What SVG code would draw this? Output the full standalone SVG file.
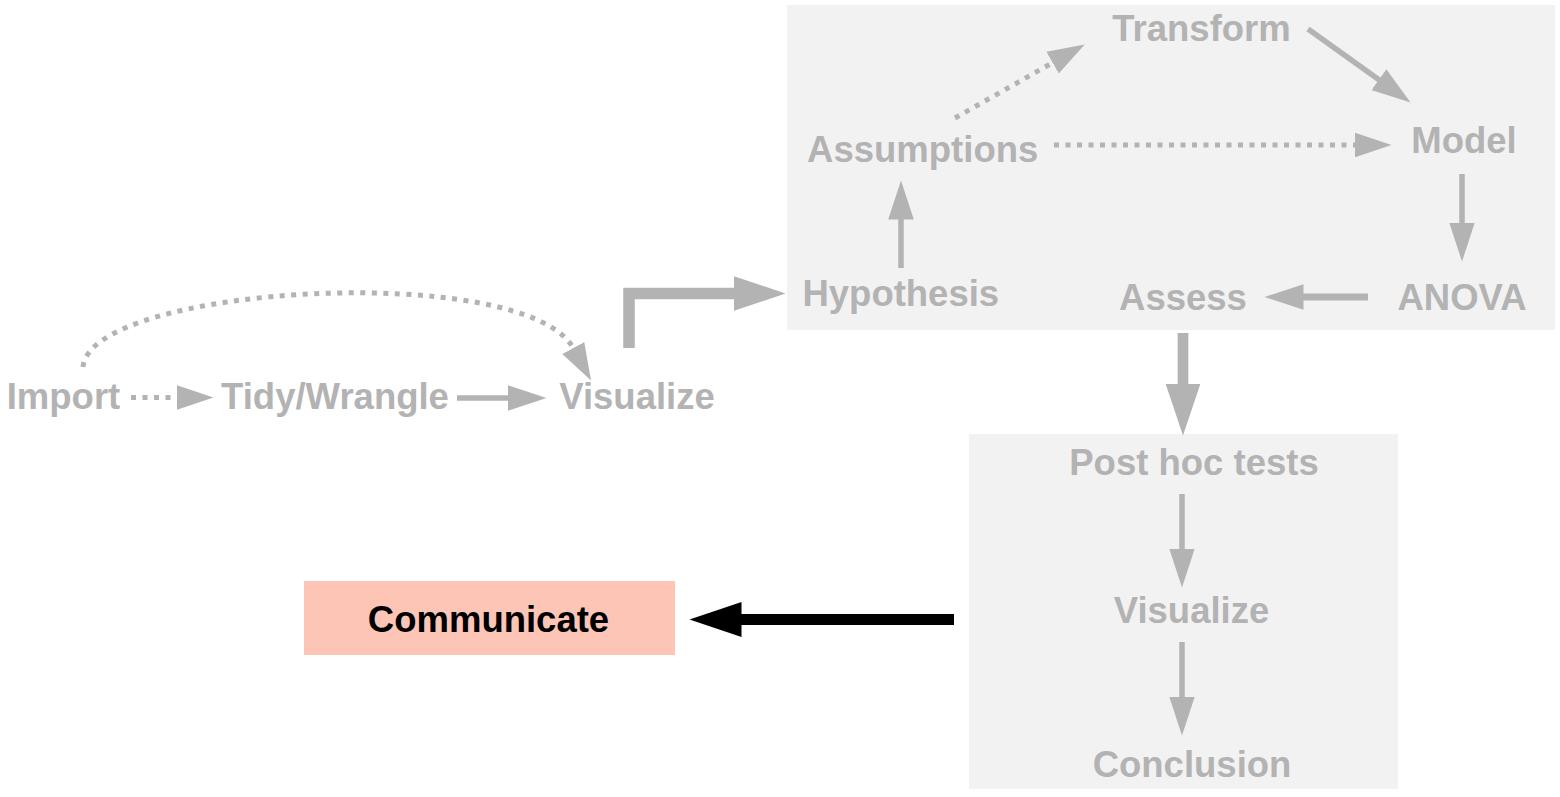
<svg xmlns="http://www.w3.org/2000/svg" width="1560" height="797" viewBox="0 0 1560 797">
<style>
.lbl{font-family:"Liberation Sans",Arial,sans-serif;font-weight:bold;font-size:36.5px;fill:#b3b3b3;text-anchor:middle}
.dark{fill:#000000}
.cluster{fill:#f2f2f2;stroke:none}
.e{fill:none;stroke:#b3b3b3;stroke-width:5.5;stroke-linecap:butt}
.dot{fill:none;stroke:#b3b3b3;stroke-width:5;stroke-dasharray:5,6.5;stroke-linecap:butt}
.thick{fill:none;stroke:#b3b3b3;stroke-width:11.5;stroke-linejoin:miter}
.black{fill:none;stroke:#000000;stroke-width:11}
</style>
<defs>
<marker id="ah" markerUnits="userSpaceOnUse" viewBox="0 0 40 26" markerWidth="40" markerHeight="26" refX="0.5" refY="13" orient="auto"><path d="M0,0.2 L39,13 L0,25.8Z" fill="#b3b3b3"/></marker>
<marker id="ahd" markerUnits="userSpaceOnUse" viewBox="0 0 40 26" markerWidth="40" markerHeight="26" refX="0.5" refY="13" orient="auto"><path d="M0,0.5 L37,13 L0,25.5Z" fill="#b3b3b3"/></marker>
<marker id="big" markerUnits="userSpaceOnUse" viewBox="0 0 53 36" markerWidth="53" markerHeight="36" refX="0.5" refY="18" orient="auto"><path d="M0,0.5 L52,18 L0,35.5Z" fill="#b3b3b3"/></marker>
<marker id="bigk" markerUnits="userSpaceOnUse" viewBox="0 0 53 36" markerWidth="53" markerHeight="36" refX="0.5" refY="18" orient="auto"><path d="M0,0.5 L52,18 L0,35.5Z" fill="#000000"/></marker>
</defs>
<rect width="1560" height="797" fill="#ffffff"/>
<g id="clusters">
<rect id="cluster_model" class="cluster" x="787" y="5" width="768" height="325"/>
<rect id="cluster_post" class="cluster" x="969" y="434" width="429" height="355"/>
</g>
<g id="connectors">
<path class="dot" d="M131,397.5 L177,397.5" marker-end="url(#ahd)"/>
<path class="e" d="M457,398 L508,398" marker-end="url(#ah)"/>
<path class="dot" d="M83,367 C90,285 525,260 573.5,348.5" marker-end="url(#ahd)"/>
<path class="thick" d="M629,348 L629,293.5 L734,293.5" marker-end="url(#big)"/>
<path class="e" d="M901,268 L901,219" marker-end="url(#ah)"/>
<path class="dot" d="M955,118 L1053,62.5" marker-end="url(#ahd)"/>
<path class="e" d="M1308,29 L1379.3,80" marker-end="url(#ah)"/>
<path class="dot" d="M1054,145 L1355,145" marker-end="url(#ahd)"/>
<path class="e" d="M1462,174 L1462,223" marker-end="url(#ah)"/>
<path class="e" d="M1368,297 L1303,297" style="stroke-width:7" marker-end="url(#ah)"/>
<path class="thick" d="M1183,333 L1183,384" style="stroke-width:10.7" marker-end="url(#big)"/>
<path class="e" d="M1182,494 L1182,549" marker-end="url(#ah)"/>
<path class="e" d="M1182,642 L1182,697" marker-end="url(#ah)"/>
<path class="black" d="M954,619.5 L741,619.5" marker-end="url(#bigk)"/>
</g>
<g id="import"><text class="lbl" x="63.5" y="409">Import</text></g>
<g id="tidy"><text class="lbl" x="335" y="409">Tidy/Wrangle</text></g>
<g id="visualize1"><text class="lbl" x="637" y="409">Visualize</text></g>
<g id="hypothesis"><text class="lbl" x="900.8" y="306">Hypothesis</text></g>
<g id="assumptions"><text class="lbl" x="922.7" y="162">Assumptions</text></g>
<g id="transform"><text class="lbl" x="1201.5" y="41">Transform</text></g>
<g id="model"><text class="lbl" x="1464" y="153">Model</text></g>
<g id="anova"><text class="lbl" x="1462" y="310">ANOVA</text></g>
<g id="assess"><text class="lbl" x="1183" y="310">Assess</text></g>
<g id="posthoc"><text class="lbl" x="1194" y="475">Post hoc tests</text></g>
<g id="visualize2"><text class="lbl" x="1191.5" y="623">Visualize</text></g>
<g id="conclusion"><text class="lbl" x="1192" y="777">Conclusion</text></g>
<g id="communicate">
<rect x="304" y="581" width="371" height="74" fill="#fcc5b5"/>
<text class="lbl dark" x="488.5" y="632">Communicate</text>
</g>
</svg>
